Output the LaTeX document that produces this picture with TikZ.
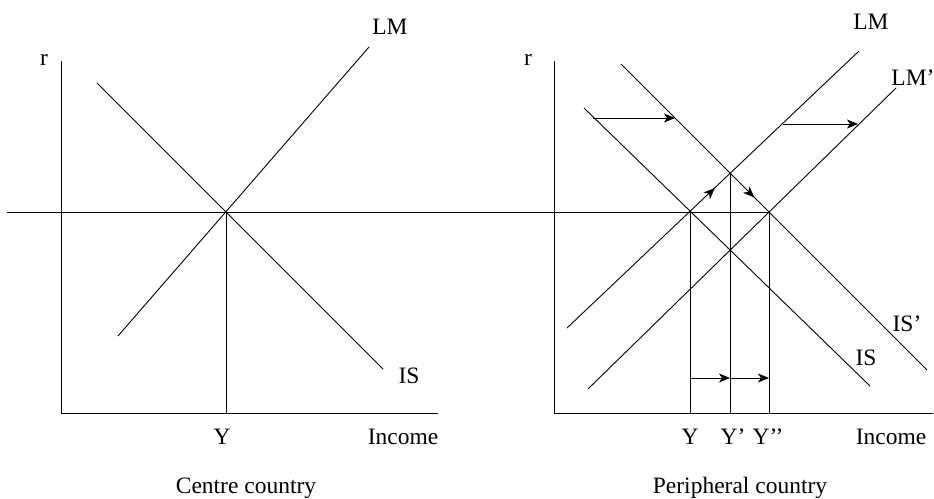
\documentclass[tikz,border=0pt]{standalone}
\usepackage{fontspec}
\setmainfont{Liberation Serif}
\usetikzlibrary{arrows.meta,decorations.markings}
\tikzset{
  curve/.style={line width=0.9pt},
  shiftarrow/.style={line width=0.9pt, -{Stealth[length=11pt,width=9pt,inset=3pt]}},
  midarrow/.style={postaction={decorate}, decoration={markings,
      mark=at position 0.62 with {\arrow{Stealth[length=11pt,width=9pt,inset=3pt]}}}},
  lbl/.style={font=\fontsize{23.5}{28}\selectfont, inner sep=0pt, anchor=base}
}
\begin{document}
\begin{tikzpicture}[x=1pt, y=-1pt]
    \useasboundingbox (0,0) rectangle (934,498);

    % Centre country (left)
    \coordinate (rA) at (61,61);
    \coordinate (oA) at (61,413);
    \coordinate (xA) at (438,413);
    \coordinate (EA) at (226,212);
    \coordinate (yA) at (226,413);
    \coordinate (lmA1) at (118,336);
    \coordinate (lmA2) at (369,47);
    \coordinate (isA1) at (97,83);
    \coordinate (isA2) at (383,369);
    \draw[curve] (rA) -- (oA) -- (xA);
    \draw[curve] (lmA1) -- (lmA2);
    \draw[curve] (isA1) -- (isA2);
    \draw[curve] (EA) -- (yA);
    \node[lbl] (rlabA) at (44,65) {r};
    \node[lbl] (lmlabA) at (390,34) {LM};
    \node[lbl] (islabA) at (409,383) {IS};
    \node[lbl] (ylabA) at (222,444) {Y};
    \node[lbl] (inclabA) at (403,444) {Income};
    \node[lbl] (titleA) at (246,493) {Centre country};

    % Peripheral country (right)
    \coordinate (rB) at (554,61);
    \coordinate (oB) at (554,413);
    \coordinate (xB) at (933,413);
    \coordinate (E0) at (690,212);
    \coordinate (E1) at (730,173.4);
    \coordinate (E2) at (769,212);
    \coordinate (y0) at (690,413);
    \coordinate (y1) at (730,413);
    \coordinate (y2) at (769,413);
    \coordinate (lmB1) at (567,328);
    \coordinate (lmB2) at (859,51);
    \coordinate (lmC1) at (588,389);
    \coordinate (lmC2) at (896,88);
    \coordinate (isB1) at (584,108);
    \coordinate (isB2) at (870,386);
    \coordinate (isC1) at (621,64);
    \coordinate (isC2) at (927,370);
    \draw[curve] (rB) -- (oB) -- (xB);
    \draw[curve] (lmB1) -- (lmB2);
    \draw[curve] (lmC1) -- (lmC2);
    \draw[curve] (isB1) -- (isB2);
    \draw[curve] (isC1) -- (isC2);
    \draw[curve] (E0) -- (y0);
    \draw[curve] (E1) -- (y1);
    \draw[curve] (E2) -- (y2);

    % Common interest rate line
    \coordinate (hL) at (7,212);
    \draw[curve] (hL) -- (E2);

    % Shifts
    \coordinate (isS1) at (593,118);
    \coordinate (isS2) at (675,118);
    \coordinate (lmS1) at (783,124);
    \coordinate (lmS2) at (858,124);
    \draw[shiftarrow] (isS1) -- (isS2);
    \draw[shiftarrow] (lmS1) -- (lmS2);
    \path[midarrow] (E0) -- (E1);
    \path[midarrow] (E1) -- (E2);
    \coordinate (a0) at (690,378);
    \coordinate (a1) at (730,378);
    \coordinate (a2) at (769,378);
    \draw[shiftarrow] (a0) -- (a1);
    \draw[shiftarrow] (a1) -- (a2);

    \node[lbl] (rlabB) at (528,65) {r};
    \node[lbl] (lmlabB) at (871,29) {LM};
    \node[lbl] (lmclabB) at (913,85) {LM’};
    \node[lbl] (isclabB) at (907,331) {IS’};
    \node[lbl] (islabB) at (866,365) {IS};
    \node[lbl] (ylab0) at (690,444) {Y};
    \node[lbl] (ylab1) at (733,444) {Y’};
    \node[lbl] (ylab2) at (768,444) {Y’’};
    \node[lbl] (inclabB) at (891,444) {Income};
    \node[lbl] (titleB) at (740,493) {Peripheral country};
\end{tikzpicture}
\end{document}
